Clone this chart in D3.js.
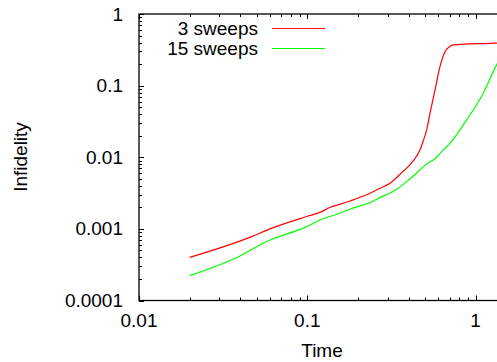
<!DOCTYPE html>
<html><head><meta charset="utf-8">
<script src="https://cdn.jsdelivr.net/npm/d3@7"></script>
<style>body{margin:0;background:#fff}svg{display:block}text{font-family:"Liberation Sans",Arial,sans-serif;fill:#000}</style>
</head><body><svg id="c" width="497" height="362"></svg>
<script>
const seriesNames = ["3 sweeps", "15 sweeps"];
const seriesColors = ["#ff0000", "#00ff00"];
const redT = [0.02, 0.0467, 0.06, 0.1, 0.1218, 0.136, 0.156, 0.179, 0.236, 0.27, 0.31, 0.356, 0.408, 0.426, 0.467, 0.489, 0.512, 0.536, 0.574, 0.614, 0.658, 0.70, 0.737, 0.885, 1.1, 1.4];
const redV = [4.0e-4, 7.8e-4, 1.0e-3, 1.5e-3, 1.74e-3, 1.99e-3, 2.2e-3, 2.45e-3, 3.14e-3, 3.69e-3, 4.33e-3, 5.8e-3, 7.9e-3, 8.9e-3, 0.0126, 0.0170, 0.0241, 0.0412, 0.087, 0.184, 0.298, 0.35, 0.370, 0.382, 0.387, 0.392];
const greenT = [0.02, 0.039, 0.0587, 0.0969, 0.1218, 0.156, 0.179, 0.236, 0.27, 0.34, 0.408, 0.536, 0.561, 0.643, 0.705, 0.885, 1.11, 1.334, 1.4];
const greenV = [2.22e-4, 4.09e-4, 6.84e-4, 1.05e-3, 1.36e-3, 1.65e-3, 1.88e-3, 2.34e-3, 2.73e-3, 3.57e-3, 5.0e-3, 8.68e-3, 9.17e-3, 0.01265, 0.0157, 0.0332, 0.0783, 0.195, 0.235];
const xTicks = [0.01, 0.1, 1];
const xTickLabels = ["0.01", "0.1", "1"];
const yTicks = [0.0001, 0.001, 0.01, 0.1, 1];
const yTickLabels = ["0.0001", "0.001", "0.01", "0.1", "1"];
const xTitle = "Time", yTitle = "Infidelity";

const L = 139, T = 14, B = 300.5;
const x = d3.scaleLog().domain([0.01, 1.4]).range([L, L + 168.3 * Math.log10(140)]);
const y = d3.scaleLog().domain([0.0001, 1]).range([B, T]);
const svg = d3.select("#c");
const R = x.range()[1];
const fs = 19;

// minor ticks
const minorX = [], minorY = [];
[0.01, 0.1, 1].forEach(d => { for (let k = 2; k <= 9; k++) { const v = d * k; if (v <= 1.4) minorX.push(v); } });
[0.0001, 0.001, 0.01, 0.1].forEach(d => { for (let k = 2; k <= 9; k++) minorY.push(d * k); });

const g = svg.append("g").attr("stroke", "#000").attr("stroke-width", 1);
minorX.forEach(v => {
  const px = Math.round(x(v)) + 0.5;
  g.append("line").attr("x1", px).attr("x2", px).attr("y1", B).attr("y2", B - 3);
  g.append("line").attr("x1", px).attr("x2", px).attr("y1", T).attr("y2", T + 3);
});
xTicks.forEach(v => {
  const px = Math.round(x(v)) + 0.5;
  g.append("line").attr("x1", px).attr("x2", px).attr("y1", B).attr("y2", B - 5);
  g.append("line").attr("x1", px).attr("x2", px).attr("y1", T).attr("y2", T + 5);
});
minorY.forEach(v => {
  const py = Math.round(y(v)) + 0.5;
  g.append("line").attr("x1", L).attr("x2", L + 3).attr("y1", py).attr("y2", py);
});
yTicks.forEach(v => {
  const py = Math.round(y(v)) + 0.5;
  g.append("line").attr("x1", L).attr("x2", L + 5).attr("y1", py).attr("y2", py);
});
svg.append("rect").attr("x", L).attr("y", T).attr("width", R - L).attr("height", B - T)
  .attr("fill", "none").attr("stroke", "#000").attr("stroke-width", 1.3);

// tick labels
xTicks.forEach((v, i) => svg.append("text").attr("x", x(v)).attr("y", 327).attr("text-anchor", "middle")
  .attr("font-size", fs).text(xTickLabels[i]));
yTicks.forEach((v, i) => svg.append("text").attr("x", 123).attr("y", y(v) + 6.5).attr("text-anchor", "end")
  .attr("font-size", fs).text(yTickLabels[i]));
svg.append("text").attr("x", 322).attr("y", 357).attr("text-anchor", "middle").attr("font-size", fs).text(xTitle);
svg.append("text").attr("transform", "translate(27,157) rotate(-90)").attr("text-anchor", "middle").attr("font-size", fs).text(yTitle);

// lines
svg.append("clipPath").attr("id", "cp").append("rect").attr("x", L).attr("y", T).attr("width", R - L).attr("height", B - T);
const line = d3.line().x(d => x(d[0])).y(d => y(d[1])).curve(d3.curveMonotoneX);
const data = [redT.map((t, i) => [t, redV[i]]), greenT.map((t, i) => [t, greenV[i]])];
data.forEach((d, i) => svg.append("path").attr("d", line(d)).attr("fill", "none")
  .attr("stroke", seriesColors[i]).attr("stroke-width", 1.2).attr("clip-path", "url(#cp)"));

// legend
seriesNames.forEach((n, i) => {
  const ly = 28.5 + i * 20;
  svg.append("text").attr("x", 258).attr("y", ly + 6.5).attr("text-anchor", "end").attr("font-size", fs).text(n);
  svg.append("line").attr("x1", 272).attr("x2", 325).attr("y1", ly).attr("y2", ly).attr("stroke", seriesColors[i]).attr("stroke-width", 1.2);
});
</script></body></html>
